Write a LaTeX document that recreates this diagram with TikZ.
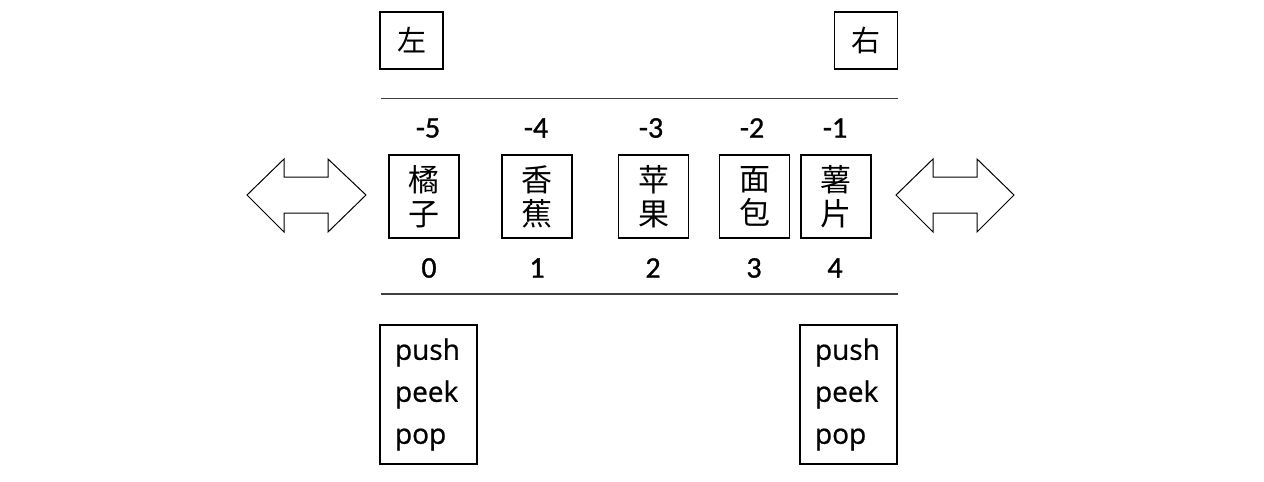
\documentclass[tikz,border=0pt]{standalone}
\usepackage{fontspec}
\setmainfont{Carlito}
\newfontfamily\cjk{Noto Sans CJK SC}
\newfontfamily\opsans[FakeBold=0.8]{Open Sans}
\newfontfamily\numfont[FakeBold=1]{Carlito}
\begin{document}
\begin{tikzpicture}[x=1pt,y=-1pt,
  box/.style={draw=black,line width=1.2pt,inner sep=0pt},
  cjkbox/.style={box,minimum width=70pt,minimum height=83pt,align=center,
     font=\cjk\fontsize{31}{34}\selectfont},
  sidebox/.style={box,minimum width=63pt,minimum height=57pt,
     font=\cjk\fontsize{29}{32}\selectfont},
  opbox/.style={box,minimum width=97pt,minimum height=139pt,align=left,
     text width=67pt,inner xsep=15pt,font=\opsans\fontsize{28}{42}\selectfont},
  idx/.style={font=\numfont\fontsize{30}{32}\selectfont},
  rule/.style={draw=black!75,line width=1.5pt},
  darrow/.style={draw=black,line width=1pt,fill=white,line join=miter}]
\useasboundingbox (0,0) rectangle (1264,482);
% side labels
\node[sidebox] (left) at (411.5,40.5) {左};
\node[sidebox] (right) at (866,40.5) {右};
% rules
\coordinate (t1) at (381,98.5);
\coordinate (t2) at (898,98.5);
\coordinate (b1) at (381,294);
\coordinate (b2) at (898,294);
\draw[rule] (t1) -- (t2);
\draw[rule] (b1) -- (b2);
% element boxes
\node[cjkbox] (e0) at (424,196.5) {橘\\子};
\node[cjkbox] (e1) at (537,196.5) {香\\蕉};
\node[cjkbox] (e2) at (653.5,196.5) {苹\\果};
\node[cjkbox] (e3) at (754.5,196.5) {面\\包};
\node[cjkbox] (e4) at (836,196.5) {薯\\片};
% negative indices
\node[idx] (n0) at (428,128) {-5};
\node[idx] (n1) at (536,128) {-4};
\node[idx] (n2) at (651,128) {-3};
\node[idx] (n3) at (752,128) {-2};
\node[idx] (n4) at (835,128) {-1};
% positive indices
\node[idx] (p0) at (429,268) {0};
\node[idx] (p1) at (537,268) {1};
\node[idx] (p2) at (653,268) {2};
\node[idx] (p3) at (754,268) {3};
\node[idx] (p4) at (835,268) {4};
% operations
\node[opbox] (opl) at (428.5,394.5) {push\\peek\\pop};
\node[opbox] (opr) at (848.5,394.5) {push\\peek\\pop};
% double arrows
\draw[darrow] (247,195) -- (284,159) -- (284,177) -- (328,177) -- (328,159)
  -- (366,195) -- (328,232) -- (328,213) -- (284,213) -- (284,232) -- cycle;
\draw[darrow] (896,195) -- (933,159) -- (933,177) -- (977,177) -- (977,159)
  -- (1014,195) -- (977,232) -- (977,213) -- (933,213) -- (933,232) -- cycle;
\end{tikzpicture}
\end{document}
